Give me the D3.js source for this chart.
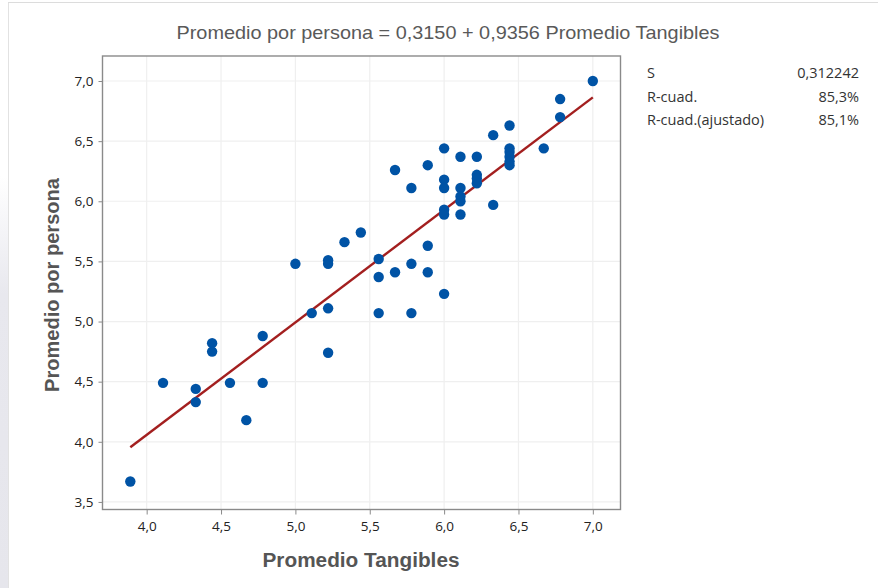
<!DOCTYPE html>
<html>
<head>
<meta charset="utf-8">
<script src="https://cdn.jsdelivr.net/npm/d3@7"></script>
<style>
  body { margin: 0; background: #fff; }
  svg { display: block; }
</style>
</head>
<body>
<div id="chart"></div>
<script>
// Promedio Tangibles (x) vs Promedio por persona (y)
const tangibles = [3.89, 4.11, 4.33, 4.33, 4.44, 4.44, 4.56, 4.67, 4.78, 4.78,
  5.00, 5.11, 5.22, 5.22, 5.22, 5.22, 5.33, 5.44, 5.56, 5.56, 5.56,
  5.67, 5.67, 5.78, 5.78, 5.78, 5.89, 5.89, 5.89,
  6.00, 6.00, 6.00, 6.00, 6.00, 6.00, 6.11, 6.11, 6.11, 6.11, 6.11,
  6.22, 6.22, 6.22, 6.22, 6.33, 6.33, 6.44, 6.44, 6.44, 6.44, 6.44, 6.44,
  6.67, 6.78, 6.78, 7.00];
const porPersona = [3.67, 4.49, 4.44, 4.33, 4.82, 4.75, 4.49, 4.18, 4.88, 4.49,
  5.48, 5.07, 5.51, 5.48, 5.11, 4.74, 5.66, 5.74, 5.52, 5.37, 5.07,
  6.26, 5.41, 6.11, 5.48, 5.07, 6.30, 5.63, 5.41,
  6.44, 6.18, 6.11, 5.93, 5.89, 5.23, 6.37, 6.11, 6.04, 6.00, 5.89,
  6.37, 6.22, 6.19, 6.15, 6.55, 5.97, 6.63, 6.44, 6.41, 6.37, 6.33, 6.30,
  6.44, 6.85, 6.70, 7.00];

const intercept = 0.3150, slope = 0.9356;
const xTicks = [4.0, 4.5, 5.0, 5.5, 6.0, 6.5, 7.0];
const yTicks = [3.5, 4.0, 4.5, 5.0, 5.5, 6.0, 6.5, 7.0];
const statLabels = ["S", "R-cuad.", "R-cuad.(ajustado)"];
const statValues = ["0,312242", "85,3%", "85,1%"];

const W = 878, H = 588;
const plot = {left: 102.5, top: 56, right: 620.5, bottom: 509.5};
const fmt = v => d3.format(".1f")(v).replace(".", ",");

const svg = d3.select("#chart").append("svg")
    .attr("width", W)
    .attr("height", H);

// page edge decoration
const grad = svg.append("defs").append("linearGradient")
    .attr("id", "edge").attr("x1", 0).attr("y1", 0).attr("x2", 0).attr("y2", 1);
grad.append("stop").attr("offset", "0.3").attr("stop-color", "#fff");
grad.append("stop").attr("offset", "0.5").attr("stop-color", "#e8e8ee");
grad.append("stop").attr("offset", "1").attr("stop-color", "#e6e6ec");
svg.append("rect").attr("x", 0).attr("y", 0).attr("width", 8).attr("height", H)
    .attr("fill", "url(#edge)");
svg.append("line").attr("x1", 8.5).attr("x2", 8.5).attr("y1", 2).attr("y2", H)
    .attr("stroke", "#e2e2e2");
svg.append("line").attr("x1", 8).attr("x2", W).attr("y1", 2.5).attr("y2", 2.5)
    .attr("stroke", "#dcdcdc");

const x = d3.scaleLinear().domain([3.703, 7.186]).range([plot.left, plot.right]);
const y = d3.scaleLinear().domain([3.437, 7.208]).range([plot.bottom, plot.top]);

// grid
svg.append("g").selectAll("line").data(xTicks).join("line")
    .attr("x1", d => x(d)).attr("x2", d => x(d))
    .attr("y1", plot.top).attr("y2", plot.bottom)
    .attr("stroke", "#efefef").attr("stroke-width", 1.2);
svg.append("g").selectAll("line").data(yTicks).join("line")
    .attr("x1", plot.left).attr("x2", plot.right)
    .attr("y1", d => y(d)).attr("y2", d => y(d))
    .attr("stroke", "#efefef").attr("stroke-width", 1.2);

// axes
const xAxis = svg.append("g")
    .attr("transform", "translate(0," + plot.bottom + ")")
    .call(d3.axisBottom(x).tickValues(xTicks).tickFormat(fmt).tickSize(5).tickSizeOuter(0).tickPadding(7));
const yAxis = svg.append("g")
    .attr("transform", "translate(" + plot.left + ",0)")
    .call(d3.axisLeft(y).tickValues(yTicks).tickFormat(fmt).tickSize(4).tickSizeOuter(0).tickPadding(5));
[xAxis, yAxis].forEach(g => {
  g.select(".domain").remove();
  g.selectAll(".tick line").attr("stroke", "#8a8a8a");
  g.selectAll(".tick text")
      .attr("fill", "#222")
      .style("font-family", "'Open Sans', 'Noto Sans', sans-serif")
      .style("font-size", "13.5px");
});

// frame
svg.append("rect")
    .attr("x", plot.left).attr("y", plot.top)
    .attr("width", plot.right - plot.left).attr("height", plot.bottom - plot.top)
    .attr("fill", "none").attr("stroke", "#8a8a8a").attr("stroke-width", 1.4);

// fitted line
const xExt = d3.extent(tangibles);
const line = d3.line().x(d => x(d)).y(d => y(intercept + slope * d));
svg.append("path")
    .datum(xExt)
    .attr("d", line)
    .attr("fill", "none")
    .attr("stroke", "#a31f1f")
    .attr("stroke-width", 2.4);

// points
svg.append("g").selectAll("circle").data(tangibles).join("circle")
    .attr("cx", d => x(d))
    .attr("cy", (d, i) => y(porPersona[i]))
    .attr("r", 5.2)
    .attr("fill", "#0053a5");

// title
svg.append("text")
    .attr("x", 448).attr("y", 39)
    .attr("text-anchor", "middle")
    .attr("textLength", 543).attr("lengthAdjust", "spacingAndGlyphs")
    .attr("fill", "#595959")
    .style("font-family", "'Liberation Sans Narrow', 'Liberation Sans', Arial, sans-serif")
    .style("font-size", "18.5px")
    .text("Promedio por persona = 0,3150 + 0,9356 Promedio Tangibles");

// axis titles
svg.append("text")
    .attr("x", 361).attr("y", 567)
    .attr("text-anchor", "middle")
    .attr("textLength", 197).attr("lengthAdjust", "spacingAndGlyphs")
    .attr("fill", "#555")
    .style("font-family", "'Liberation Sans', Arial, sans-serif")
    .style("font-weight", "bold")
    .style("font-size", "19.5px")
    .text("Promedio Tangibles");
svg.append("text")
    .attr("transform", "translate(59,285) rotate(-90)")
    .attr("text-anchor", "middle")
    .attr("textLength", 214).attr("lengthAdjust", "spacingAndGlyphs")
    .attr("fill", "#555")
    .style("font-family", "'Liberation Sans', Arial, sans-serif")
    .style("font-weight", "bold")
    .style("font-size", "19.5px")
    .text("Promedio por persona");

// stats table
const stats = svg.append("g")
    .style("font-family", "'Open Sans', 'Noto Sans', sans-serif")
    .style("font-size", "14.5px")
    .attr("fill", "#333");
stats.selectAll(".lab").data(statLabels).join("text")
    .attr("class", "lab")
    .attr("x", 647).attr("y", (d, i) => 78 + i * 23.5)
    .text(d => d);
stats.selectAll(".val").data(statValues).join("text")
    .attr("class", "val")
    .attr("x", 859).attr("y", (d, i) => 78 + i * 23.5)
    .attr("text-anchor", "end")
    .text(d => d);
</script>
</body>
</html>
